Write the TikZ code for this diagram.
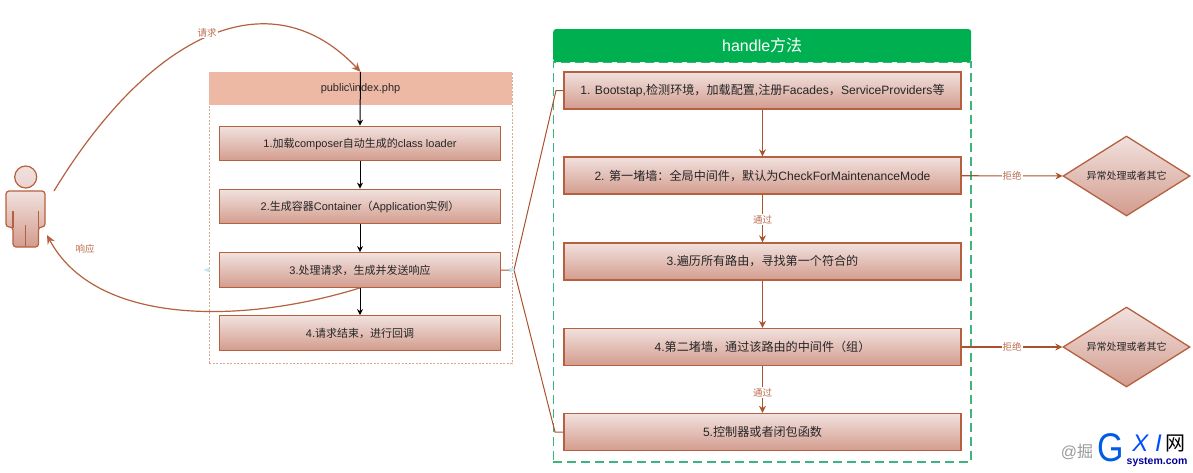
\documentclass[tikz,border=0pt]{standalone}
\usepackage{fontspec}
\setmainfont{Liberation Sans}
\newfontfamily\cjk{Noto Sans CJK SC}
\newcommand{\C}[1]{{\cjk #1}}
\usetikzlibrary{arrows.meta,shapes.geometric}
\definecolor{edge}{HTML}{B5603F}
\definecolor{arrowc}{HTML}{A9522C}
\definecolor{topc}{HTML}{F1E1DE}
\definecolor{botc}{HTML}{D39C8E}
\definecolor{peach}{HTML}{EDB9A5}
\definecolor{hgreen}{HTML}{00B050}
\definecolor{dgreen}{HTML}{3DB57C}
\definecolor{lab}{HTML}{BC6E50}
\tikzset{
  x=1pt,y=-1pt,
  ltxt/.style={font=\fontsize{11}{13}\selectfont,text=black!85},
  rtxt/.style={font=\fontsize{12.1}{14}\selectfont,text=black!85},
  lbox/.style={draw=edge,line width=1.3pt,top color=topc,bottom color=botc,minimum width=281pt,minimum height=34.5pt,inner sep=0pt,ltxt},
  rbox/.style={draw=edge,line width=1.3pt,top color=topc,bottom color=botc,minimum width=397pt,minimum height=37pt,inner sep=0pt,rtxt},
  dia/.style={diamond,aspect=1.59,draw=edge,line width=1.3pt,top color=topc,bottom color=botc,minimum width=127pt,minimum height=80pt,inner sep=0pt,font=\fontsize{10}{12}\selectfont,text=black!85},
  blackarrow/.style={draw=black,line width=1pt,-{Stealth[length=6pt,width=6pt]}},
  brownarrow/.style={draw=arrowc,line width=1.1pt,-{Stealth[length=7pt,width=7pt]}},
  curvearrow/.style={draw=edge,line width=1.2pt,-{Stealth[length=9pt,width=8pt]}},
  elabel/.style={font=\fontsize{9.5}{11}\selectfont,text=lab,fill=white,inner sep=1pt},
  bracket/.style={draw=arrowc,line width=1pt},
  portmark/.style={fill=black!10!cyan!25!white,draw=none,inner sep=0pt,minimum size=5pt,isosceles triangle},
}
\begin{document}
\begin{tikzpicture}
\useasboundingbox (0,0) rectangle (1193,472);
% left container
\node[draw=edge!55,dash pattern=on 2pt off 1.5pt,line width=.8pt,minimum width=303pt,minimum height=291.5pt,inner sep=0pt] (lcont) at (360.5,218) {};
\node[fill=peach,minimum width=303pt,minimum height=33pt,inner sep=0pt,ltxt] (lhead) at (360.5,88.5) {public\textbackslash index.php};
\node[lbox] (a1) at (360,143.5) {1.\C{加载}composer\C{自动生成的}class loader};
\node[lbox] (a2) at (360,206.5) {2.\C{生成容器}Container\C{（}Application\C{实例）}};
\node[lbox] (a3) at (360,270) {3.\C{处理请求，生成并发送响应}};
\node[lbox] (a4) at (360,333) {4.\C{请求结束，进行回调}};
\draw[blackarrow] (lhead.north) -- (a1.north);
\draw[blackarrow] (a1) -- (a2);
\draw[blackarrow] (a2) -- (a3);
\draw[blackarrow] (a3) -- (a4);
% right container
\node[draw=dgreen,dash pattern=on 9pt off 5pt,line width=1.2pt,minimum width=417.5pt,minimum height=400pt,inner sep=0pt] (rcont) at (762.2,262) {};
\node[fill=hgreen,rounded corners=3pt,minimum width=418pt,minimum height=33pt,inner sep=0pt,text=white,font=\fontsize{16}{18}\selectfont] (rhead) at (762.2,45.5) {handle\C{方法}};
\node[rbox] (b1) at (762.5,90.5) {1. Bootstap,\C{检测环境，加载配置},\C{注册}Facades\C{，}ServiceProviders\C{等}};
\node[rbox] (b2) at (762.5,175.5) {2. \C{第一堵墙：全局中间件，默认为}CheckForMaintenanceMode};
\node[rbox] (b3) at (762.5,261.5) {3.\C{遍历所有路由，寻找第一个符合的}};
\node[rbox] (b4) at (762.5,347) {4.\C{第二堵墙，通过该路由的中间件（组）}};
\node[rbox] (b5) at (762.5,432) {5.\C{控制器或者闭包函数}};
\node[dia] (d1) at (1126.5,176) {\C{异常处理或者其它}};
\node[dia] (d2) at (1126.5,347) {\C{异常处理或者其它}};
\draw[brownarrow] (b1) -- (b2);
\draw[brownarrow] (b2) -- node[elabel,pos=.5,yshift=-1pt]{\C{通过}} (b3);
\draw[brownarrow] (b3) -- (b4);
\draw[brownarrow] (b4) -- node[elabel,pos=.5,yshift=-3pt]{\C{通过}} (b5);
\draw[brownarrow] (b2) -- node[elabel,pos=.5]{\C{拒绝}} (d1);
\draw[brownarrow] (b4) -- node[elabel,pos=.5]{\C{拒绝}} (d2);
% bracket
\coordinate (fork) at (514,270);
\coordinate (up) at (556,90.5);
\coordinate (down) at (555,432);
\draw[bracket] (a3.east) -- (fork) -- (up) -- (b1.west);
\draw[bracket] (fork) -- (down) -- (b5.west);
\node[portmark,shape border rotate=0] (p1) at (511,270) {};
\node[portmark,shape border rotate=180] (p2) at (208,270) {};
% person
\path[draw=edge,line width=1.2pt,top color=topc,bottom color=botc,rounded corners=3pt]
  (6,227) -- (6,191) -- (45,191) -- (45,227) -- (38.5,227) -- (38.5,247) -- (13,247) -- (13,227) -- cycle;
\draw[edge,line width=1.2pt] (13,211) -- (13,228) (38.5,211) -- (38.5,228) (25.7,225) -- (25.7,247);
\node[circle,draw=edge,line width=1.2pt,top color=topc,bottom color=topc!80!botc,minimum size=22pt,inner sep=0pt] (head) at (25.7,177) {};
\coordinate (pout) at (54,191);
\coordinate (pin) at (47,235);
\draw[curvearrow] (pout) .. controls (150,33) and (270,-24) .. (lhead.north);
\draw[curvearrow] (a3.south) .. controls (240,325) and (95,325) .. (pin);
\node[elabel] (reqlab) at (207,33) {\C{请求}};
\node[elabel] (resplab) at (85,249) {\C{响应}};
% watermark
\node[text=black!40,font=\fontsize{16}{18}\selectfont,inner sep=0pt] (w1) at (1077,452) {@\C{掘}};
\node[xscale=.85,text=blue!60!cyan!90!black,font=\fontsize{40}{40}\selectfont,inner sep=0pt] (w2) at (1111,448) {G};
\node[text=blue!70!cyan,font=\itshape\fontsize{24}{24}\selectfont,inner sep=0pt] (w3) at (1147,443) {X I};
\node[text=black,font=\cjk\fontsize{20}{20}\selectfont,inner sep=0pt] (w4) at (1175,443) {网};
\node[text=blue!60!black,font=\bfseries\fontsize{10.5}{11}\selectfont,inner sep=0pt] (w5) at (1157,462) {system.com};
\end{tikzpicture}
\end{document}
